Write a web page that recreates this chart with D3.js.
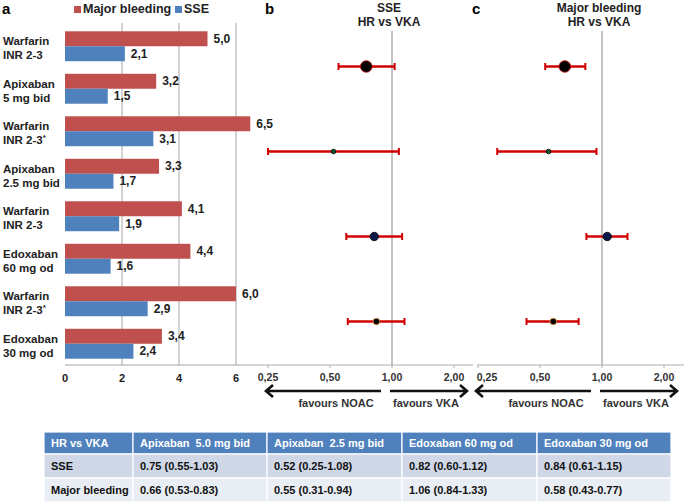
<!DOCTYPE html>
<html>
<head>
<meta charset="utf-8">
<script src="https://cdn.jsdelivr.net/npm/d3@7"></script>
<style>
  body { margin: 0; background: #fff; }
  svg { font-family: "Liberation Sans", Arial, sans-serif; }
</style>
</head>
<body>
<div class="canvas"></div>
<script>
// bar panel (a): annual event rates
const groupLabels = [
  ['Warfarin', 'INR 2-3'], ['Apixaban', '5 mg bid'], ['Warfarin', 'INR 2-3*'], ['Apixaban', '2.5 mg bid'],
  ['Warfarin', 'INR 2-3'], ['Edoxaban', '60 mg od'], ['Warfarin', 'INR 2-3*'], ['Edoxaban', '30 mg od']
];
const majorBleeding = [5.0, 3.2, 6.5, 3.3, 4.1, 4.4, 6.0, 3.4];
const sse = [2.1, 1.5, 3.1, 1.7, 1.9, 1.6, 2.9, 2.4];
const barTicks = [0, 2, 4, 6];

// forest panels (b, c): HR vs VKA
const comparisons = ['Apixaban  5.0 mg bid', 'Apixaban  2.5 mg bid', 'Edoxaban 60 mg od', 'Edoxaban 30 mg od'];
const sseHR = [0.75, 0.52, 0.82, 0.84];
const sseLo = [0.55, 0.25, 0.60, 0.61];
const sseHi = [1.03, 1.08, 1.12, 1.15];
const mbHR = [0.66, 0.55, 1.06, 0.58];
const mbLo = [0.53, 0.31, 0.84, 0.43];
const mbHi = [0.83, 0.94, 1.33, 0.77];
const hrTicks = [0.25, 0.5, 1, 2];

const RED = '#C0504D', BLUE = '#4F81BD';
const fmt = v => d3.format('.1f')(v).replace('.', ',');
const fmtHr = v => d3.format('.2f')(v).replace('.', ',');

const svg = d3.select('.canvas')
  .append('svg')
  .attr('width', 684)
  .attr('height', 504);

const plotTop = 25, plotBottom = 365;

// ---------- panel a ----------
const x = d3.scaleLinear().domain([0, 8]).range([65, 293]);
const y = d3.scaleBand().domain(d3.range(groupLabels.length)).range([plotTop, plotBottom]);
const sub = d3.scaleBand().domain(['mb', 'sse']).range([0, y.bandwidth()]).paddingOuter(0.42);

const a = svg.append('g');

a.selectAll('line.grid')
  .data(barTicks.slice(1))
  .join('line')
  .attr('class', 'grid')
  .attr('x1', d => x(d)).attr('x2', d => x(d))
  .attr('y1', plotTop - 2).attr('y2', plotBottom)
  .attr('stroke', '#a6a6a6').attr('stroke-width', 1);

a.append('line')
  .attr('x1', x(0)).attr('x2', 258)
  .attr('y1', plotBottom).attr('y2', plotBottom)
  .attr('stroke', '#a6a6a6');

a.selectAll('text.tick')
  .data(barTicks)
  .join('text')
  .attr('class', 'tick')
  .attr('x', d => x(d)).attr('y', 382)
  .attr('text-anchor', 'middle')
  .attr('font-size', 11).attr('font-weight', 'bold').attr('fill', '#222')
  .text(d => d);

const series = [
  { key: 'mb', values: majorBleeding, color: RED },
  { key: 'sse', values: sse, color: BLUE }
];

series.forEach(s => {
  a.selectAll(`rect.${s.key}`)
    .data(s.values)
    .join('rect')
    .attr('class', s.key)
    .attr('x', x(0))
    .attr('y', (d, i) => y(i) + sub(s.key))
    .attr('width', d => x(d) - x(0))
    .attr('height', sub.bandwidth())
    .attr('fill', s.color);

  a.selectAll(`text.${s.key}`)
    .data(s.values)
    .join('text')
    .attr('class', s.key)
    .attr('x', d => x(d) + 6)
    .attr('y', (d, i) => y(i) + sub(s.key) + sub.bandwidth() / 2 + 4)
    .attr('font-size', 12).attr('font-weight', 'bold').attr('fill', '#222')
    .text(d => fmt(d));
});

const lbl = a.selectAll('text.cat')
  .data(groupLabels)
  .join('text')
  .attr('class', 'cat')
  .attr('x', 3)
  .attr('y', (d, i) => y(i) + y.bandwidth() / 2 - 1)
  .attr('font-size', 11.5).attr('font-weight', 'bold').attr('fill', '#222');
lbl.append('tspan').text(d => d[0]);
lbl.append('tspan')
  .attr('x', 3).attr('dy', 14)
  .text(d => d[1].replace('*', ''));
lbl.filter(d => d[1].endsWith('*'))
  .append('tspan')
  .attr('dy', -4).attr('font-size', 8)
  .text('*');

// legend
svg.append('text').attr('x', 2).attr('y', 14)
  .attr('font-size', 15).attr('font-weight', 'bold').text('a');
const legend = [['Major bleeding', RED, 74], ['SSE', BLUE, 175]];
legend.forEach(([t, c, lx]) => {
  svg.append('rect').attr('x', lx).attr('y', 6).attr('width', 7).attr('height', 7).attr('fill', c);
  svg.append('text').attr('x', lx + 9).attr('y', 13)
    .attr('font-size', 12.5).attr('font-weight', 'bold').attr('fill', '#222').text(t);
});

// ---------- panels b, c ----------
const rowY = d3.scaleBand().domain(d3.range(comparisons.length)).range([plotTop, plotBottom]);
const markers = [
  { r: 5.8, fill: '#000', stroke: '#c00000' },
  { r: 2.3, fill: '#0b5a2e', stroke: '#000' },
  { r: 4.2, fill: '#0b1a4a', stroke: '#000' },
  { r: 3.3, fill: '#000', stroke: '#e09a40' }
];

function forest(opts) {
  const hx = d3.scaleLog().domain([0.25, 2]).range(opts.range);
  const g = svg.append('g');
  const ref = hx(1);

  g.append('text').attr('x', opts.letterX).attr('y', 14)
    .attr('font-size', 15).attr('font-weight', 'bold').text(opts.letter);
  opts.title.forEach((t, i) => {
    g.append('text').attr('x', ref - 3).attr('y', 12 + i * 14)
      .attr('text-anchor', 'middle')
      .attr('font-size', 12).attr('font-weight', 'bold').attr('fill', '#222').text(t);
  });

  g.append('line')
    .attr('x1', ref).attr('x2', ref).attr('y1', 31).attr('y2', plotBottom)
    .attr('stroke', '#b0b0b0').attr('stroke-width', 1.5);

  // axis
  g.append('line')
    .attr('x1', opts.axis[0]).attr('x2', opts.axis[1])
    .attr('y1', plotBottom).attr('y2', plotBottom)
    .attr('stroke', '#b0b0b0').attr('stroke-width', 1.2);
  g.selectAll('line.tk').data(hrTicks).join('line')
    .attr('class', 'tk')
    .attr('x1', d => hx(d)).attr('x2', d => hx(d))
    .attr('y1', plotBottom).attr('y2', plotBottom + 3)
    .attr('stroke', '#b0b0b0');
  g.selectAll('text.tk').data(hrTicks).join('text')
    .attr('class', 'tk')
    .attr('x', (d, i) => hx(d) + (i === 0 ? opts.firstDx : 0))
    .attr('y', 381)
    .attr('text-anchor', 'middle')
    .attr('font-size', 10.5).attr('font-weight', 'bold').attr('fill', '#333')
    .text(d => fmtHr(d));

  // CI lines
  const rows = d3.range(comparisons.length);
  const cy = i => rowY(i) + rowY.bandwidth() / 2 - 1;
  g.selectAll('line.ci').data(rows).join('line')
    .attr('class', 'ci')
    .attr('x1', i => hx(opts.lo[i])).attr('x2', i => hx(opts.hi[i]))
    .attr('y1', cy).attr('y2', cy)
    .attr('stroke', '#d00000').attr('stroke-width', 2.5);
  ['lo', 'hi'].forEach(k => {
    g.selectAll(`line.cap${k}`).data(rows).join('line')
      .attr('class', `cap${k}`)
      .attr('x1', i => hx(opts[k][i])).attr('x2', i => hx(opts[k][i]))
      .attr('y1', i => cy(i) - 3.5).attr('y2', i => cy(i) + 3.5)
      .attr('stroke', '#d00000').attr('stroke-width', 2);
  });
  g.selectAll('circle').data(rows).join('circle')
    .attr('cx', i => hx(opts.hr[i])).attr('cy', cy)
    .attr('r', i => markers[i].r)
    .attr('fill', i => markers[i].fill)
    .attr('stroke', i => markers[i].stroke).attr('stroke-width', 0.8);

  // arrows
  const ay = 391;
  const arrow = (x1, x2) => {
    const dir = Math.sign(x2 - x1);
    g.append('path')
      .attr('d', `M${x1},${ay}H${x2}M${x2 - dir * 7},${ay - 6}L${x2},${ay}L${x2 - dir * 7},${ay + 6}`)
      .attr('fill', 'none').attr('stroke', '#111').attr('stroke-width', 2.6)
      .attr('stroke-linejoin', 'miter');
  };
  arrow(ref - 11, hx(0.25) - 2);
  arrow(ref - 2, ref + 75);
  g.append('text').attr('x', ref - 56).attr('y', 407)
    .attr('text-anchor', 'middle').attr('font-size', 11).attr('font-weight', 'bold').attr('fill', '#333')
    .text('favours NOAC');
  g.append('text').attr('x', ref + 34).attr('y', 407)
    .attr('text-anchor', 'middle').attr('font-size', 11).attr('font-weight', 'bold').attr('fill', '#333')
    .text('favours VKA');
}

forest({ letter: 'b', letterX: 265, title: ['SSE', 'HR vs VKA'], range: [268, 454],
  axis: [258, 473], firstDx: 0, hr: sseHR, lo: sseLo, hi: sseHi });
forest({ letter: 'c', letterX: 472, title: ['Major bleeding', 'HR vs VKA'], range: [478, 664],
  axis: [477, 684], firstDx: 9, hr: mbHR, lo: mbLo, hi: mbHi });

// ---------- table ----------
const colEdges = [44, 133, 267, 402, 537, 671];
const rowEdges = [432, 454, 478, 502];
const fmtCI = (h, l, u) => `${h.toFixed(2)} (${l.toFixed(2)}-${u.toFixed(2)})`;
const tableRows = [
  ['HR vs VKA', ...comparisons],
  ['SSE', ...sseHR.map((h, i) => fmtCI(h, sseLo[i], sseHi[i]))],
  ['Major bleeding', ...mbHR.map((h, i) => fmtCI(h, mbLo[i], mbHi[i]))]
];
const rowFill = [BLUE, '#D0D8E8', '#E9EDF4'];
const t = svg.append('g');
tableRows.forEach((row, r) => {
  row.forEach((cell, c) => {
    t.append('rect')
      .attr('x', colEdges[c]).attr('y', rowEdges[r])
      .attr('width', colEdges[c + 1] - colEdges[c]).attr('height', rowEdges[r + 1] - rowEdges[r])
      .attr('fill', rowFill[r]).attr('stroke', '#fff').attr('stroke-width', 1.2);
    t.append('text')
      .attr('x', colEdges[c] + 7)
      .attr('y', (rowEdges[r] + rowEdges[r + 1]) / 2 + 4)
      .attr('font-size', 11).attr('font-weight', 'bold')
      .attr('fill', r === 0 ? '#fff' : '#111')
      .style('white-space', 'pre')
      .text(cell);
  });
});
</script>
</body>
</html>
